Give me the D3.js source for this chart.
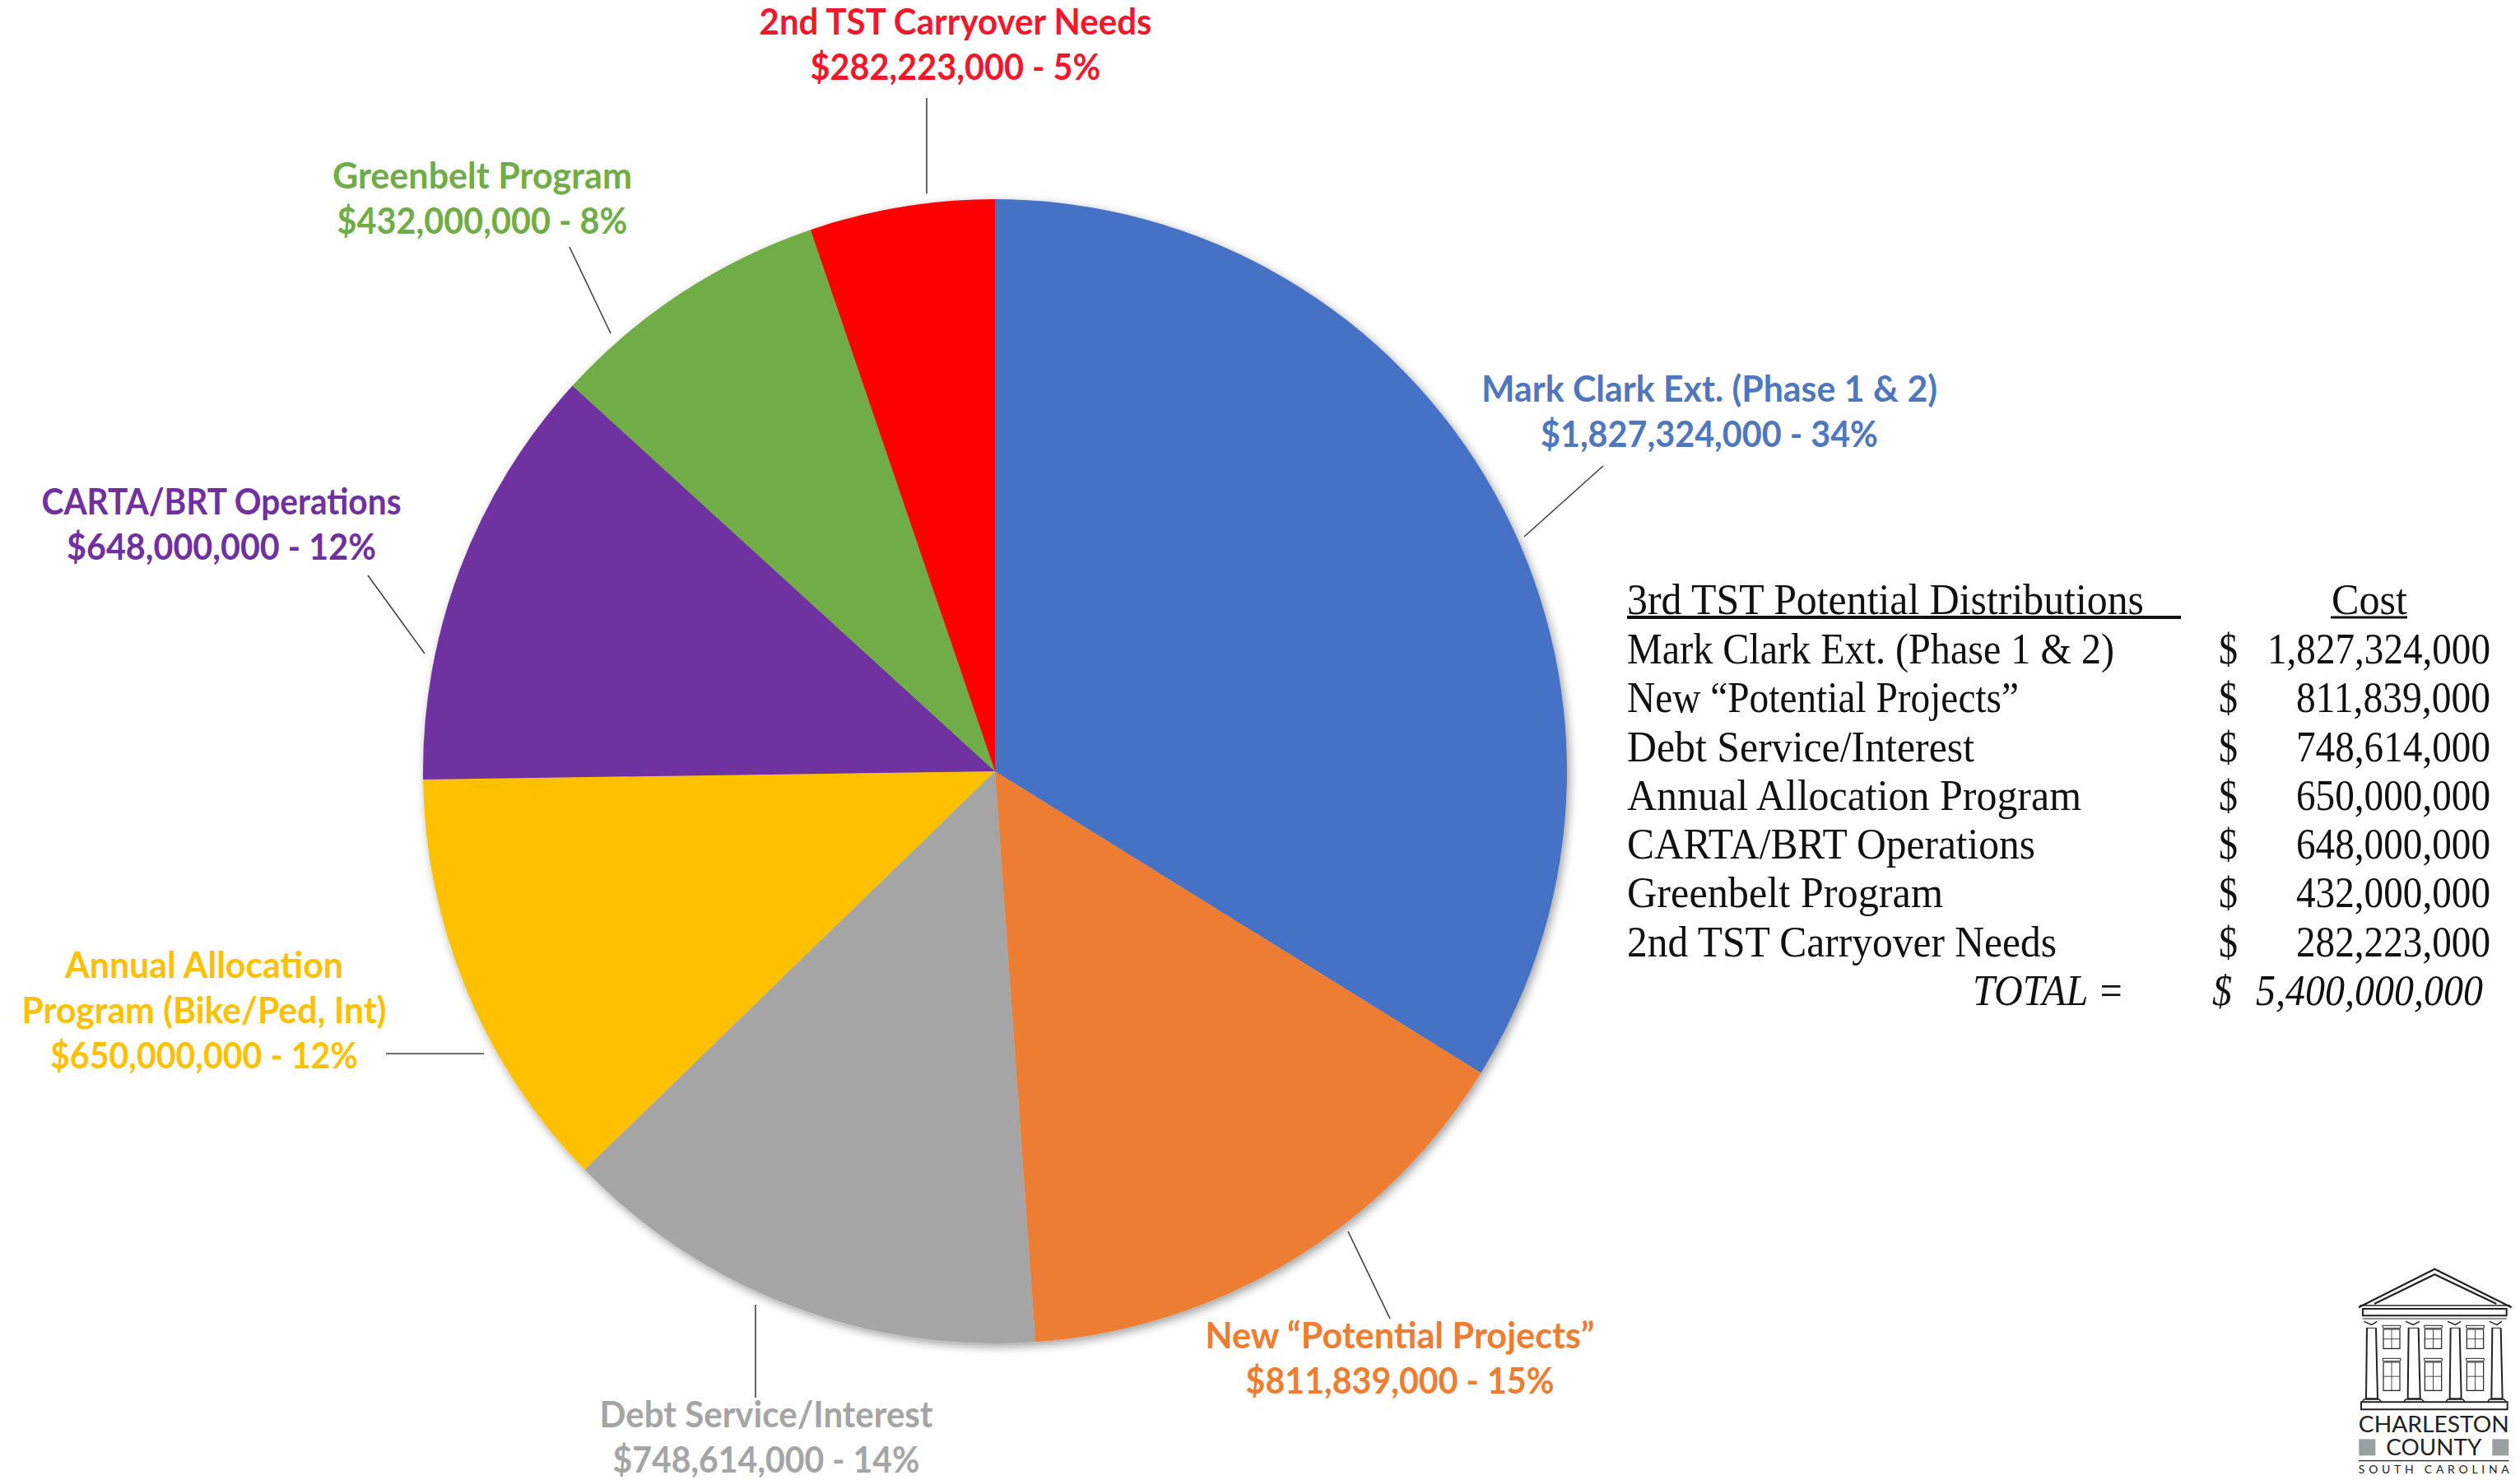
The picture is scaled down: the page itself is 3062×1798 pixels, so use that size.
<!DOCTYPE html>
<html><head><meta charset="utf-8">
<script src="https://cdnjs.cloudflare.com/ajax/libs/d3/7.8.5/d3.min.js"></script>
<style>html,body{margin:0;background:#fff}svg{display:block}</style></head>
<body><svg id="c" width="3062" height="1798"></svg>
<script>
const categories=["Mark Clark Ext. (Phase 1 & 2)","New “Potential Projects”","Debt Service/Interest","Annual Allocation Program","CARTA/BRT Operations","Greenbelt Program","2nd TST Carryover Needs"];
const costs=[1827324000,811839000,748614000,650000000,648000000,432000000,282223000];
const percents=[34,15,14,12,12,8,5];
const colors=["#4472C4","#ED7D31","#A5A5A5","#FFC000","#7030A0","#70AD47","#FF0000"];
const labelColors=["#4F77BE","#ED7D31","#A5A5A5","#FFC000","#7030A0","#70AD47","#F0182A"];
const calloutNames=[["Mark Clark Ext. (Phase 1 & 2)"],["New “Potential Projects”"],["Debt Service/Interest"],["Annual Allocation","Program (Bike/Ped, Int)"],["CARTA/BRT Operations"],["Greenbelt Program"],["2nd TST Carryover Needs"]];
const totalLabel="5,400,000,000";
const tableHeader="3rd TST  Potential Distributions", costHeader="Cost";

const labelLayout=[
 {x:2077,y:488,w:[554,410],lead:[1852,652,1948,566]},
 {x:1701,y:1638,w:[473,375],lead:[1638,1496,1689,1602]},
 {x:931,y:1734,w:[405,373],lead:[918,1585,918,1698]},
 {x:248,y:1188,w:[338,443,374],lead:[469,1280,588,1280]},
 {x:269,y:625,w:[437,376],lead:[447,699,516,794]},
 {x:586,y:229,w:[364,353],lead:[692,300,742,405]},
 {x:1161,y:42,w:[477,353],lead:[1126,119,1126,235]}];
const svg=d3.select("#c");
const font="Lato, Carlito, sans-serif", serif="'Liberation Serif', serif";
const defs=svg.append("defs");
const f=defs.append("filter").attr("id","sh").attr("x","-5%").attr("y","-5%").attr("width","110%").attr("height","110%");
f.append("feDropShadow").attr("dx",3).attr("dy",4).attr("stdDeviation",6).attr("flood-color","#000").attr("flood-opacity",.38);

const cx=1209,cy=937,R=695;
const pie=d3.pie().sort(null).value(d=>d);
const arc=d3.arc().innerRadius(0).outerRadius(R);
const g=svg.append("g").attr("transform",`translate(${cx},${cy})`).attr("filter","url(#sh)");
g.selectAll("path").data(pie(costs)).join("path").attr("d",arc).attr("fill",(d,i)=>colors[i]);

const fmt=d3.format(",");
const lab=svg.append("g");
labelLayout.forEach((L,i)=>{
  lab.append("line").attr("x1",L.lead[0]).attr("y1",L.lead[1]).attr("x2",L.lead[2]).attr("y2",L.lead[3]).attr("stroke","#404040").attr("stroke-width",1.6);
  const lines=[...calloutNames[i],`$${fmt(costs[i])} - ${percents[i]}%`];
  lines.forEach((t,j)=>lab.append("text").attr("x",L.x).attr("y",L.y+j*55).attr("text-anchor","middle").attr("font-family",font).attr("font-weight",700).attr("font-size",44).attr("fill",labelColors[i]).attr("textLength",L.w[j]).attr("lengthAdjust","spacingAndGlyphs").text(t));
});

const tbl=svg.append("g").attr("font-family",serif).attr("font-size",52).attr("fill","#111");
const rowY=d3.scaleLinear().domain([0,7]).range([806,1221]);
tbl.append("text").attr("x",1977).attr("y",746).attr("textLength",628).attr("lengthAdjust","spacingAndGlyphs").text(tableHeader);
tbl.append("line").attr("x1",1977).attr("x2",2650).attr("y1",750).attr("y2",750).attr("stroke","#111").attr("stroke-width",4);
tbl.append("text").attr("x",2833).attr("y",746).attr("textLength",92).attr("lengthAdjust","spacingAndGlyphs").text(costHeader);
tbl.append("line").attr("x1",2832).attr("x2",2925).attr("y1",750).attr("y2",750).attr("stroke","#111").attr("stroke-width",3);
const nameW=[592,476,422,552,496,384,522];
categories.forEach((c,i)=>{
  tbl.append("text").attr("x",1977).attr("y",rowY(i)).attr("textLength",nameW[i]).attr("lengthAdjust","spacingAndGlyphs").text(c);
  tbl.append("text").attr("x",2696).attr("y",rowY(i)).attr("textLength",23).attr("lengthAdjust","spacingAndGlyphs").text("$");
  tbl.append("text").attr("x",3026).attr("y",rowY(i)).attr("text-anchor","end").attr("textLength",i==0?271:236).attr("lengthAdjust","spacingAndGlyphs").text(fmt(costs[i]));
});
tbl.append("text").attr("x",2397).attr("y",rowY(7)).attr("font-style","italic").attr("textLength",184).attr("lengthAdjust","spacingAndGlyphs").text("TOTAL =");
tbl.append("text").attr("x",2688).attr("y",rowY(7)).attr("font-style","italic").attr("textLength",24).attr("lengthAdjust","spacingAndGlyphs").text("$");
tbl.append("text").attr("x",3017).attr("y",rowY(7)).attr("font-style","italic").attr("text-anchor","end").attr("textLength",276).attr("lengthAdjust","spacingAndGlyphs").text(totalLabel);

// logo
const P=(x,y)=>[2780+x/3,1500+y/3];
const logo=svg.append("g").attr("stroke","#222").attr("fill","none");
const ln=d3.line();
const draw=(pts,w,close)=>logo.append("path").attr("d",ln(pts.map(p=>P(p[0],p[1])))+(close?"Z":"")).attr("stroke-width",w);
draw([[258,265],[535,125],[815,265]],2.2);
draw([[315,252],[535,145],[760,252]],2.2);
draw([[262,258],[810,258]],1.5);
draw([[273,270],[797,270],[797,295],[273,295]],2,true);
draw([[272,306],[797,306]],1.2);
[[285,325],[437,480],[590,630],[742,780]].forEach(c=>{
  const [a,b]=c;
  draw([[a,340],[b-3,340]],1);
  draw([[a+3,340],[a,598],[b+2,598],[b-4,340]],2);
  draw([[a-8,316],[a+20,328],[b,316]],1.5);
  draw([[a-14,610],[a-8,600],[b+8,600],[b+16,610]],1.5);
});
[[348,408],[499,560],[652,713]].forEach(c=>{
  [[345,415],[465,568]].forEach(r=>{
    draw([[c[0],r[0]],[c[1],r[0]],[c[1],r[1]],[c[0],r[1]]],1.2,true);
    draw([[(c[0]+c[1])/2,r[0]],[(c[0]+c[1])/2,r[1]]],.8);
    draw([[c[0],(r[0]+r[1])/2],[c[1],(r[0]+r[1])/2]],.8);
    draw([[c[0]-3,r[0]-14],[c[1]+3,r[0]-14],[c[1]+1,r[0]-4],[c[0]-1,r[0]-4]],1,true);
  });
});
draw([[267,610],[800,610],[800,637],[267,637]],2,true);
draw([[258,824],[806,824]],1.3);
const lt=svg.append("g").attr("font-family","Lato, sans-serif").attr("fill","#222").attr("text-anchor","middle");
const [lx,]=P(532,0);
lt.append("text").attr("x",lx).attr("y",P(0,721)[1]).attr("font-size",26).attr("textLength",183).attr("lengthAdjust","spacingAndGlyphs").text("CHARLESTON");
lt.append("text").attr("x",lx).attr("y",P(0,804)[1]).attr("font-size",27).attr("textLength",116).attr("lengthAdjust","spacingAndGlyphs").text("COUNTY");
lt.append("text").attr("x",lx).attr("y",P(0,870)[1]).attr("font-size",14).attr("textLength",183).attr("lengthAdjust","spacing").text("SOUTH CAROLINA");
[[259,319],[745,805]].forEach(s=>svg.append("rect").attr("x",P(s[0],0)[0]).attr("y",P(0,745)[1]).attr("width",20).attr("height",20).attr("fill","#9aa0a0"));
</script></body></html>
